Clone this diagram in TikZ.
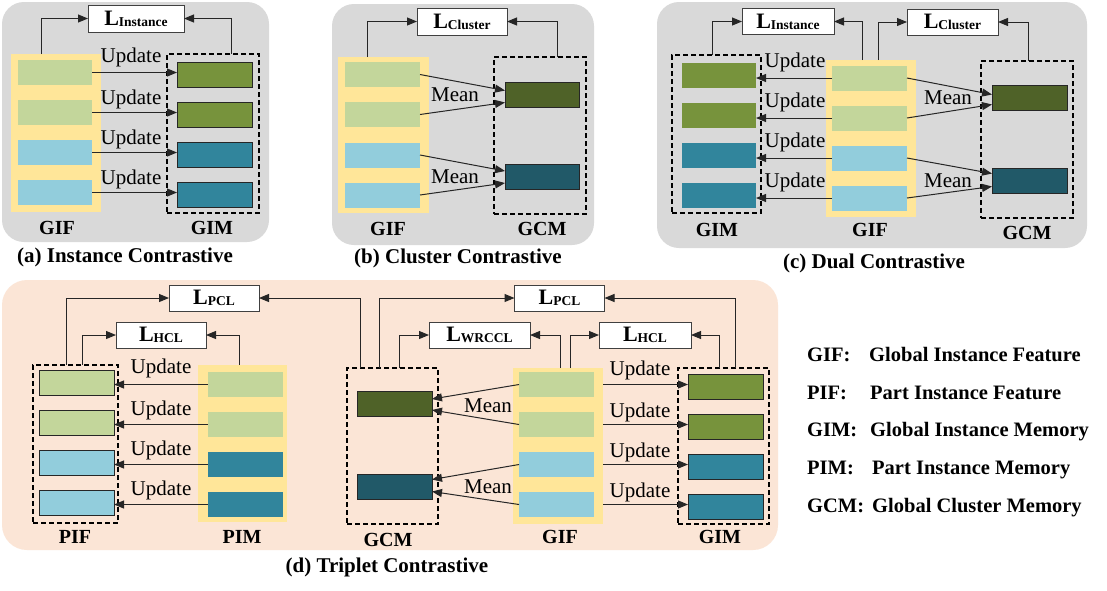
\documentclass[tikz,border=0pt]{standalone}
\usepackage{fontspec}
\setmainfont{Liberation Serif}
\usetikzlibrary{arrows.meta,calc}
\definecolor{bggray}{HTML}{D9D9D9}
\definecolor{peach}{HTML}{FBE5D6}
\definecolor{ylw}{HTML}{FFE699}
\definecolor{lgreen}{HTML}{C3D69B}
\definecolor{lblue}{HTML}{92CDDC}
\definecolor{mgreen}{HTML}{77933C}
\definecolor{mteal}{HTML}{31859C}
\definecolor{dgreen}{HTML}{4F6228}
\definecolor{dteal}{HTML}{215968}
\newcommand\losslabel[1]{{\fontsize{22}{22}\selectfont\bfseries L}\raisebox{-1pt}{\fontsize{13.5}{13.5}\selectfont\bfseries #1}}
\tikzset{
  bar/.style={minimum width=75pt, minimum height=25pt, inner sep=0pt, outer sep=0pt},
  bd/.style={draw=black!85, line width=1pt},
  ybox/.style={fill=ylw, inner sep=0pt, outer sep=0pt},
  cont/.style={draw=black, line width=1.3pt, dash pattern=on 5pt off 3pt, inner sep=0pt, outer sep=0pt},
  lossbox/.style={draw=black!75, fill=white, line width=0.9pt, minimum width=90pt, minimum height=26pt, inner sep=0pt, outer sep=0pt},
  arr/.style={-{Triangle[length=10pt,width=8pt]}, line width=1pt, draw=black!85},
  txt/.style={font=\fontsize{21}{21}\selectfont, inner sep=0pt},
  lab/.style={font=\fontsize{20}{20}\selectfont\bfseries, inner sep=0pt},
  capt/.style={font=\fontsize{21}{21}\selectfont\bfseries, inner sep=0pt},
  leg/.style={font=\fontsize{20.5}{20.5}\selectfont\bfseries, inner sep=0pt, anchor=base west},
}
\begin{document}
\begin{tikzpicture}[x=1pt,y=-1pt]
\useasboundingbox[fill=white] (0,0) rectangle (1107,590);

% ================= (a) =================
\fill[bggray, rounded corners=22pt] (2,2) rectangle (269,242);
\node[lossbox, minimum width=96pt, minimum height=27pt] (LinsA) at (136,18.5) {\losslabel{Instance}};
\node[ybox, minimum width=90pt, minimum height=158pt] (gifA) at (56,133) {};
\foreach \i/\y/\c in {1/72.5/lgreen,2/112.5/lgreen,3/152.5/lblue,4/192.5/lblue}
  \node[bar, minimum width=74pt, fill=\c] (fa\i) at (55,\y) {};
\node[cont, minimum width=92pt, minimum height=159pt] (gimA) at (213,133.5) {};
\foreach \i/\y/\c in {1/74.5/mgreen,2/114.5/mgreen,3/154.5/mteal,4/194.5/mteal}
  \node[bar, bd, fill=\c] (ma\i) at (214.5,\y) {};
\foreach \i/\y in {1/57,2/99,3/139,4/179}{
  \draw[arr] (fa\i.east) -- (ma\i.west |- fa\i.east);
  \node[txt] (ua\i) at (131,\y) {Update};
}
\draw[arr] ($(gifA.north west)+(30,0)$) |- (LinsA.west);
\draw[arr] ($(gimA.north east)+(-28,0)$) |- (LinsA.east);
\node[lab] (labA1) at (57,228) {GIF};
\node[lab] (labA2) at (212,228) {GIM};
\node[capt] (capA) at (125,257) {(a) Instance Contrastive};

% ================= (b) =================
\fill[bggray, rounded corners=22pt] (332,4) rectangle (594,245);
\node[lossbox, minimum height=27pt] (LclB) at (462,21.5) {\losslabel{Cluster}};
\node[ybox, minimum width=91pt, minimum height=156pt] (gifB) at (383.5,135) {};
\foreach \i/\y/\c in {1/74.5/lgreen,2/114.5/lgreen,3/155/lblue,4/195/lblue}
  \node[bar, fill=\c] (fb\i) at (382.5,\y) {};
\node[cont, minimum width=92pt, minimum height=157pt] (gcmB) at (540,135.5) {};
\node[bar, bd, minimum width=74pt, fill=dgreen] (gb1) at (542,94.5) {};
\node[bar, bd, minimum width=74pt, fill=dteal] (gb2) at (542,177) {};
\draw[arr] (fb1.east) -- ($(gb1.west)+(0,-4)$);
\draw[arr] (fb2.east) -- ($(gb1.west)+(0,8)$);
\draw[arr] (fb3.east) -- ($(gb2.west)+(0,-6)$);
\draw[arr] (fb4.east) -- ($(gb2.west)+(0,6)$);
\node[txt] (mb1) at (455,95) {Mean};
\node[txt] (mb2) at (455,177) {Mean};
\draw[arr] ($(gifB.north west)+(29,0)$) |- (LclB.west);
\draw[arr] ($(gcmB.north east)+(-29,0)$) |- (LclB.east);
\node[lab] (labB1) at (388,229) {GIF};
\node[lab] (labB2) at (542,229) {GCM};
\node[capt] (capB) at (458,258) {(b) Cluster Contrastive};

% ================= (c) =================
\fill[bggray, rounded corners=22pt] (657,2) rectangle (1087,248);
\node[lossbox, minimum width=92pt] (LinsC) at (788,21.5) {\losslabel{Instance}};
\node[lossbox, minimum width=91pt] (LclC) at (952.5,22) {\losslabel{Cluster}};
\node[cont, minimum width=89pt, minimum height=158pt] (gimC) at (716.5,134) {};
\foreach \i/\y/\c in {1/75/mgreen,2/115/mgreen,3/155/mteal,4/195/mteal}
  \node[bar, minimum width=74pt, fill=\c] (mc\i) at (719,\y) {};
\node[ybox, minimum width=90pt, minimum height=157pt] (gifC) at (871,138.5) {};
\foreach \i/\y/\c in {1/78/lgreen,2/118/lgreen,3/158/lblue,4/198/lblue}
  \node[bar, fill=\c] (fc\i) at (869.5,\y) {};
\node[cont, minimum width=92pt, minimum height=157pt] (gcmC) at (1027,139.5) {};
\node[bar, bd, fill=dgreen] (gc1) at (1029.5,97.5) {};
\node[bar, bd, fill=dteal] (gc2) at (1029.5,180.5) {};
\foreach \i/\y in {1/62,2/102,3/142,4/182}{
  \draw[arr] (fc\i.west) -- (mc\i.east |- fc\i.west);
  \node[txt] (uc\i) at (795,\y) {Update};
}
\draw[arr] (fc1.east) -- ($(gc1.west)+(0,-3)$);
\draw[arr] (fc2.east) -- ($(gc1.west)+(0,7)$);
\draw[arr] (fc3.east) -- ($(gc2.west)+(0,-7)$);
\draw[arr] (fc4.east) -- ($(gc2.west)+(0,6)$);
\node[txt] (mc1t) at (948,98) {Mean};
\node[txt] (mc2t) at (948,181) {Mean};
\draw[arr] ($(gimC.north west)+(40,0)$) |- (LinsC.west);
\draw[arr] ($(gifC.north west)+(36,0)$) |- (LinsC.east);
\draw[arr] ($(gifC.north west)+(52,0)$) |- (LclC.west);
\draw[arr] ($(gcmC.north west)+(47,0)$) |- (LclC.east);
\node[lab] (labC1) at (717,230) {GIM};
\node[lab] (labC2) at (870,230) {GIF};
\node[lab] (labC3) at (1027,233) {GCM};
\node[capt] (capC) at (874,263) {(c) Dual Contrastive};

% ================= (d) =================
\fill[peach, rounded corners=25pt] (2,280) rectangle (778,550);
\node[lossbox] (PCL1) at (214,298) {\losslabel{PCL}};
\node[lossbox] (HCL1) at (161,335) {\losslabel{HCL}};
\node[lossbox] (PCL2) at (559.5,298) {\losslabel{PCL}};
\node[lossbox, minimum width=101pt] (WRC) at (479.5,335) {\losslabel{WRCCL}};
\node[lossbox, minimum width=92pt] (HCL2) at (645,335) {\losslabel{HCL}};

\node[cont, minimum width=85pt, minimum height=158pt] (pifD) at (75.5,444) {};
\foreach \i/\y/\c in {1/383/lgreen,2/423/lgreen,3/463/lblue,4/503/lblue}
  \node[bar, bd, fill=\c] (pf\i) at (76.5,\y) {};
\node[ybox, minimum width=89pt, minimum height=157pt] (pimD) at (242.5,443.5) {};
\foreach \i/\y/\c in {1/384.5/lgreen,2/424.5/lgreen,3/464.5/mteal,4/504.5/mteal}
  \node[bar, fill=\c] (pm\i) at (245.5,\y) {};
\foreach \i/\y in {1/368,2/410,3/450,4/490}{
  \draw[arr] (pm\i.west) -- (pf\i.east |- pm\i.west);
  \node[txt] (ud\i) at (161,\y) {Update};
}

\node[cont, minimum width=91pt, minimum height=156pt] (gcmD) at (392.5,446) {};
\node[bar, bd, fill=dgreen] (gd1) at (394.5,404) {};
\node[bar, bd, fill=dteal] (gd2) at (394.5,486.5) {};
\node[ybox, minimum width=90pt, minimum height=156pt] (gifD) at (558,446) {};
\foreach \i/\y/\c in {1/384.5/lgreen,2/424.5/lgreen,3/464.5/lblue,4/504.5/lblue}
  \node[bar, fill=\c] (fd\i) at (556.5,\y) {};
\node[cont, minimum width=91pt, minimum height=156pt] (gimD) at (723.5,446) {};
\foreach \i/\y/\c in {1/386.5/mgreen,2/426.5/mgreen,3/466.5/mteal,4/506.5/mteal}
  \node[bar, bd, fill=\c] (md\i) at (725.5,\y) {};
\foreach \i/\y in {1/370,2/412,3/452,4/492}{
  \draw[arr] (gifD.east |- fd\i.east) -- (md\i.west |- fd\i.east);
  \node[txt] (ue\i) at (640,\y) {Update};
}
\draw[arr] (fd1.west) -- ($(gd1.east)+(0,-5)$);
\draw[arr] (fd2.west) -- ($(gd1.east)+(0,6)$);
\draw[arr] (fd3.west) -- ($(gd2.east)+(0,-7)$);
\draw[arr] (fd4.west) -- ($(gd2.east)+(0,5)$);
\node[txt] (me1) at (488,406) {Mean};
\node[txt] (me2) at (488,487) {Mean};

\draw[arr] ($(pifD.north west)+(33,0)$) |- (PCL1.west);
\draw[arr] ($(pifD.north west)+(49,0)$) |- (HCL1.west);
\draw[arr] ($(pimD.north west)+(41,0)$) |- (HCL1.east);
\draw[arr] ($(gcmD.north west)+(13,0)$) |- (PCL1.east);
\draw[arr] ($(gcmD.north west)+(32,0)$) |- (PCL2.west);
\draw[arr] ($(gcmD.north west)+(52,0)$) |- (WRC.west);
\draw[arr] ($(gifD.north west)+(47,0)$) |- (WRC.east);
\draw[arr] ($(gifD.north west)+(57,0)$) |- (HCL2.west);
\draw[arr] ($(gimD.north west)+(41,0)$) |- (HCL2.east);
\draw[arr] ($(gimD.north west)+(57,0)$) |- (PCL2.east);

\node[lab] (labD1) at (75,537) {PIF};
\node[lab] (labD2) at (242,537) {PIM};
\node[lab] (labD3) at (388,540) {GCM};
\node[lab] (labD4) at (560,537) {GIF};
\node[lab] (labD5) at (720,537) {GIM};
\node[capt] (capD) at (387,567) {(d) Triplet Contrastive};

% ================= legend =================
\node[leg] (k1) at (807,361) {GIF:};
\node[leg] (d1) at (869,361) {Global Instance Feature};
\node[leg] (k2) at (807,399) {PIF:};
\node[leg] (d2) at (870,399) {Part Instance Feature};
\node[leg] (k3) at (807,436) {GIM:};
\node[leg] (d3) at (870,436) {Global Instance Memory};
\node[leg] (k4) at (807,474) {PIM:};
\node[leg] (d4) at (872,474) {Part Instance Memory};
\node[leg] (k5) at (807,512) {GCM:};
\node[leg] (d5) at (872,512) {Global Cluster Memory};
\end{tikzpicture}
\end{document}
